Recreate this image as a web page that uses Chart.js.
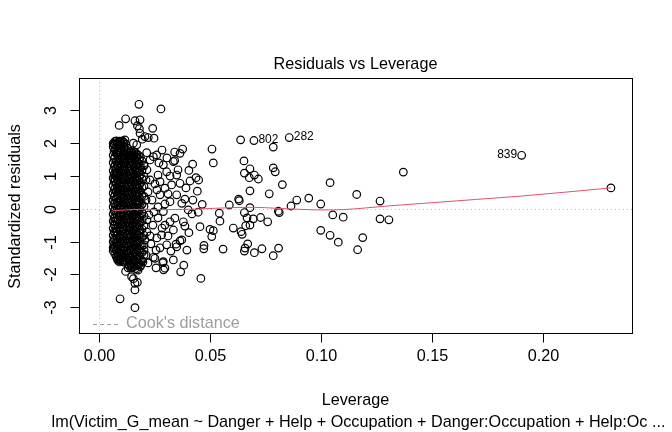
<!DOCTYPE html>
<html><head><meta charset="utf-8">
<script src="https://cdn.jsdelivr.net/npm/chart.js@4.4.1/dist/chart.umd.min.js"></script>
<style>html,body{margin:0;padding:0;background:#fff;}canvas{display:block;}</style>
</head><body>
<canvas id="c" width="672" height="432" style="width:672px;height:432px"></canvas>
<script>
// ---- data ----
const xTicks = [0, 0.05, 0.10, 0.15, 0.20];
const xTickLabels = ['0.00', '0.05', '0.10', '0.15', '0.20'];
const yTicks = [-3, -2, -1, 0, 1, 2, 3];
const yTickLabels = ['-3', '-2', '-1', '0', '1', '2', '3'];

// dense cluster: leverage columns and their standardized residuals
const clusterLeverage = [0.0064,0.0071,0.0078,0.0085,0.0092,0.0099,0.0106,0.0113,0.0120,0.0128,0.0136,0.0143,0.0150,0.0157,0.0164,0.0171,0.0178,0.0186,0.0194,0.0203,
                         0.0068,0.0082,0.0096,0.0110,0.0140,0.0154,0.0168,0.0182];
const clusterResiduals = [
 [1.88,1.62,1.40,1.15,0.93,0.70,0.47,0.26,0.05,-0.17,-0.38,-0.60,-0.81,-1.00,-1.18,1.98,-1.28],
 [2.04,1.80,1.55,1.31,1.08,0.84,0.61,0.38,0.14,-0.07,-0.29,-0.51,-0.73,-0.95,-1.16,-1.37,1.94,0.92,-0.40],
 [2.06,1.86,1.66,1.44,1.21,0.99,0.76,0.52,0.30,0.07,-0.15,-0.37,-0.59,-0.82,-1.04,-1.25,-1.46,1.10,-0.68],
 [2.02,1.75,1.50,1.27,1.03,0.80,0.56,0.33,0.10,-0.12,-0.34,-0.56,-0.78,-1.01,-1.22,-1.43,-1.57,1.62,0.20],
 [2.05,1.91,1.69,1.46,1.22,0.97,0.73,0.49,0.25,0.02,-0.21,-0.44,-0.66,-0.89,-1.11,-1.33,-1.52,0.60,-1.62],
 [2.03,1.83,1.59,1.35,1.12,0.89,0.65,0.42,0.18,-0.04,-0.26,-0.48,-0.71,-0.93,-1.14,-1.36,-1.55,1.71,-0.15],
 [2.06,1.77,1.53,1.29,1.06,0.82,0.58,0.35,0.12,-0.10,-0.32,-0.55,-0.77,-0.99,-1.20,-1.41,-1.60,0.95],
 [2.01,1.72,1.48,1.24,1.00,0.77,0.53,0.29,0.06,-0.16,-0.39,-0.62,-0.84,-1.06,-1.27,-1.48,-1.63,1.88],
 [1.96,1.64,1.38,1.13,0.88,0.64,0.40,0.16,-0.07,-0.30,-0.53,-0.76,-0.98,-1.19,-1.40,-1.58,1.79],
 [1.84,1.52,1.25,0.98,0.72,0.46,0.20,-0.05,-0.30,-0.55,-0.80,-1.05,-1.29,-1.52,1.68],
 [1.71,1.47,1.23,0.99,0.75,0.51,0.27,0.03,-0.20,-0.43,-0.66,-0.89,-1.12,-1.35,-1.57,-1.74,1.60],
 [1.74,1.53,1.30,1.06,0.82,0.58,0.34,0.10,-0.13,-0.36,-0.59,-0.82,-1.05,-1.28,-1.50,-1.70,-1.80],
 [1.68,1.44,1.19,0.95,0.70,0.46,0.22,-0.02,-0.26,-0.50,-0.73,-0.96,-1.19,-1.42,-1.63,-1.78,1.58],
 [1.73,1.51,1.27,1.02,0.78,0.54,0.30,0.06,-0.18,-0.41,-0.64,-0.87,-1.10,-1.33,-1.56,-1.76,1.64],
 [1.70,1.46,1.21,0.97,0.73,0.49,0.25,0.01,-0.23,-0.46,-0.69,-0.92,-1.15,-1.38,-1.60,-1.82],
 [1.66,1.40,1.15,0.91,0.67,0.43,0.19,-0.05,-0.29,-0.52,-0.75,-0.98,-1.21,-1.44,-1.66,-1.84,1.55],
 [1.62,1.36,1.11,0.86,0.62,0.38,0.14,-0.10,-0.34,-0.58,-0.81,-1.04,-1.27,-1.49,-1.70],
 [1.57,1.29,1.03,0.78,0.54,0.30,0.06,-0.18,-0.42,-0.66,-0.89,-1.12,-1.35,-1.57,-1.76],
 [1.45,1.17,0.90,0.64,0.39,0.13,-0.12,-0.37,-0.62,-0.87,-1.11,-1.34,-1.58],
 [1.30,0.98,0.68,0.37,0.07,-0.23,-0.52,-0.81,-1.10,-1.40],
 [1.95,1.74,1.51,1.27,1.03,0.81,0.58,0.36,0.16,-0.06,-0.27,-0.49,-0.70,-0.91,-1.09,-1.22],
 [1.97,1.71,1.33,1.09,0.87,0.63,0.41,0.19,-0.03,-0.25,-0.47,-0.70,-0.92,-1.13,-1.35,-1.52],
 [1.94,1.76,1.52,1.29,1.05,0.81,0.56,0.32,0.08,-0.15,-0.37,-0.59,-0.82,-1.03,-1.25,-1.46,-1.58],
 [1.97,1.63,1.40,1.17,0.93,0.70,0.46,0.22,-0.01,-0.23,-0.45,-0.68,-0.91,-1.13,-1.35,-1.55],
 [1.63,1.38,1.14,0.89,0.65,0.41,0.17,-0.07,-0.31,-0.54,-0.77,-1.00,-1.24,-1.46,-1.66],
 [1.61,1.37,1.13,0.88,0.64,0.40,0.16,-0.08,-0.32,-0.55,-0.78,-1.01,-1.25,-1.48,-1.69],
 [1.58,1.33,1.09,0.84,0.60,0.36,0.12,-0.12,-0.36,-0.60,-0.84,-1.07,-1.31,-1.53,-1.74],
 [1.49,1.22,0.97,0.72,0.48,0.23,-0.01,-0.26,-0.50,-0.74,-0.98,-1.22,-1.46,-1.68]
];

// points around the cluster and the tail below it: [leverage, residual]
const nearPoints = [
 [0.0120,2.73],[0.0091,2.53],[0.0162,2.67],[0.0185,2.70],[0.0173,2.52],[0.0182,2.43],[0.0185,2.29],[0.0195,2.11],
 [0.0242,2.44],[0.0248,2.14],[0.0222,2.16],[0.0117,2.09],[0.0095,2.04],[0.0155,1.99],[0.0170,1.94],[0.0207,2.19],
 [0.0215,1.70],[0.0245,1.58],[0.0260,1.63],[0.0290,1.33],[0.0305,1.12],[0.0335,1.43],[0.0350,1.02],[0.0365,0.77],
 [0.0327,0.72],[0.0297,0.62],[0.0275,0.82],[0.0350,0.42],[0.0320,0.21],[0.0373,0.16],[0.0402,-0.04],[0.0290,-0.09],
 [0.0342,-0.29],[0.0380,-0.40],[0.0297,-0.50],[0.0335,-0.65],[0.0282,-0.80],[0.0305,-1.10],[0.0252,-1.51],[0.0290,-1.61],
 [0.0297,-1.81],[0.0216,1.18],[0.0230,0.87],[0.0221,0.51],[0.0239,0.26],[0.0225,-0.19],[0.0243,-0.50],[0.0216,-0.71],
 [0.0234,-1.07],[0.0257,-1.26],[0.0212,-1.41],[0.0266,0.05],[0.0261,0.57],[0.0266,1.02],[0.0203,1.33],[0.0203,-1.26],
 [0.0221,-1.65],[0.0257,-1.80],[0.0275,0.42],[0.0284,1.78],[0.0306,1.54],[0.0270,1.39],[0.0320,0.99],[0.0252,0.75],
 [0.0311,0.45],[0.0266,-0.28],[0.0320,-0.40],[0.0284,-0.59],[0.0261,-0.89],[0.0311,-0.83],[0.0275,-1.19],[0.0324,-1.29],
 [0.0387,-0.53],[0.0419,-0.16],[0.0392,0.63],[0.0356,1.18],[0.0297,0.14],[0.0248,-0.10],[0.0423,0.26],[0.0396,-1.26],
 [0.0212,0.87],[0.0212,0.26],[0.0216,-0.34],[0.0207,-0.95],[0.0230,1.48],[0.0230,-0.83],
 [0.0120,-1.91],[0.0147,-2.07],[0.0155,-2.13],[0.0162,-2.27],[0.0173,-2.24],[0.0162,-2.47],[0.0245,-1.48],[0.0287,-1.64],
 [0.0291,-1.86],[0.0189,-1.71],[0.0176,-1.87],[0.0198,-1.62],[0.0131,-1.80]
];

// the sparser points at higher leverage: [leverage, residual]
const spreadPoints = [
 [0.0279,3.03],[0.0180,3.17],[0.0095,-2.74],[0.0162,-3.01],[0.0509,1.81],[0.0515,1.39],[0.0638,2.09],[0.0785,1.87],
 [0.0653,1.45],[0.0680,1.21],[0.0655,1.08],[0.0700,1.02],[0.0718,0.90],[0.0677,0.94],[0.0785,1.24],[0.0794,1.12],
 [0.0826,0.73],[0.0680,0.54],[0.0767,0.45],[0.0629,0.29],[0.0632,0.24],[0.0587,0.11],[0.0680,0.03],[0.0655,-0.12],
 [0.0667,-0.28],[0.0695,-0.31],[0.0728,-0.27],[0.0760,-0.40],[0.0808,-0.08],[0.0812,-0.12],[0.0865,0.08],[0.0891,0.26],
 [0.0945,0.32],[0.0999,0.14],[0.1041,0.79],[0.1053,-0.19],[0.0999,-0.66],[0.1041,-0.81],[0.1078,-1.02],[0.0605,-0.59],
 [0.0640,-0.70],[0.0645,-0.78],[0.0661,-0.52],[0.0680,-0.50],[0.0658,-1.20],[0.0655,-1.29],[0.0670,-1.07],[0.0734,-1.22],
 [0.0700,-1.34],[0.0809,-1.20],[0.0785,-1.43],[0.0559,-1.23],[0.0473,-1.12],[0.0472,-1.22],[0.0455,-0.55],[0.0500,-0.63],
 [0.0515,-0.67],[0.0508,-0.85],[0.0542,-0.14],[0.0545,-0.38],[0.0465,0.13],[0.0447,-0.11],[0.0459,-2.12],[0.0368,-1.92],
 [0.0382,-1.72],[0.0335,-1.56],[0.0377,1.81],[0.0341,1.72],[0.0365,1.68],[0.0341,1.46],[0.0422,1.35],[0.0405,1.16],
 [0.0449,0.87],[0.0437,0.94],[0.0410,0.84],[0.0443,0.53],[0.0387,0.29],[0.0405,-0.73],[0.0373,-0.95],[0.0365,-0.98],
 [0.0347,-1.08],[0.0350,-1.16],[0.1371,1.11],[0.1161,0.43],[0.1266,0.23],[0.1100,-0.26],[0.1266,-0.31],[0.1306,-0.34],
 [0.1188,-0.88],[0.1165,-1.25],[0.2306,0.63]
];

// labelled observations
const labelIds = ['802', '282', '839'];
const labelLeverage = [0.0698, 0.0857, 0.1904];
const labelResiduals = [2.07, 2.16, 1.62];
const labelSide = ['right', 'right', 'left'];

// smoother (red line)
const smoothLeverage = [0.0064,0.012,0.020,0.030,0.045,0.060,0.070,0.080,0.090,0.100,0.110,0.120,0.130,0.150,0.170,0.190,0.210,0.2306];
const smoothResiduals = [-0.06,-0.04,-0.02,-0.03,-0.01,0.03,0.04,0.01,-0.02,-0.04,-0.03,0.02,0.08,0.18,0.28,0.38,0.50,0.63];

// ---- build datasets ----
const points = [];
clusterLeverage.forEach((lv, i) => clusterResiduals[i].forEach(r => points.push({x: lv, y: r})));
nearPoints.forEach(p => points.push({x: p[0], y: p[1]}));
spreadPoints.forEach(p => points.push({x: p[0], y: p[1]}));
labelLeverage.forEach((lv, i) => points.push({x: lv, y: labelResiduals[i]}));
const smooth = smoothLeverage.map((lv, i) => ({x: lv, y: smoothResiduals[i]}));

const FONT = '"Liberation Sans", Arial, Helvetica, sans-serif';
const FS = '16.2px ';

const rPlot = {
  id: 'rPlot',
  beforeDatasetsDraw(chart) {
    const {ctx, chartArea: a, scales: {x, y}} = chart;
    ctx.save();
    ctx.strokeStyle = '#BEBEBE';
    ctx.lineWidth = 1;
    ctx.setLineDash([1, 3]);
    const y0 = Math.round(y.getPixelForValue(0)) + 0.5;
    ctx.beginPath(); ctx.moveTo(a.left, y0); ctx.lineTo(a.right, y0); ctx.stroke();
    const x0 = Math.round(x.getPixelForValue(0)) + 0.5;
    ctx.beginPath(); ctx.moveTo(x0, a.top); ctx.lineTo(x0, a.bottom); ctx.stroke();
    ctx.restore();
  },
  afterDatasetsDraw(chart) {
    const {ctx, chartArea: a, scales: {x, y}} = chart;
    ctx.save();
    // box
    ctx.strokeStyle = '#000';
    ctx.lineWidth = 1;
    ctx.setLineDash([]);
    ctx.strokeRect(Math.round(a.left) + 0.5, Math.round(a.top) + 0.5, Math.round(a.right - a.left), Math.round(a.bottom - a.top));
    ctx.fillStyle = '#000';
    ctx.font = FS + FONT;
    // x axis ticks
    const bx = Math.round(a.bottom) + 0.5;
    ctx.textAlign = 'center'; ctx.textBaseline = 'middle';
    xTicks.forEach((v, i) => {
      const px = Math.round(x.getPixelForValue(v)) + 0.5;
      ctx.beginPath(); ctx.moveTo(px, bx); ctx.lineTo(px, bx + 9); ctx.stroke();
      ctx.fillText(xTickLabels[i], px, a.bottom + 24);
    });
    // y axis ticks
    const lx = Math.round(a.left) + 0.5;
    yTicks.forEach((v, i) => {
      const py = Math.round(y.getPixelForValue(v)) + 0.5;
      ctx.beginPath(); ctx.moveTo(lx, py); ctx.lineTo(lx - 9, py); ctx.stroke();
      ctx.save();
      ctx.translate(a.left - 27, py);
      ctx.rotate(-Math.PI / 2);
      ctx.fillText(yTickLabels[i], 0, 0);
      ctx.restore();
    });
    // titles
    const cx = (a.left + a.right) / 2;
    ctx.fillText('Residuals vs Leverage', cx, a.top - 13);
    ctx.fillText('Leverage', cx, a.bottom + 68);
    ctx.fillText('lm(Victim_G_mean ~ Danger + Help + Occupation + Danger:Occupation + Help:Oc ...', cx + 3, a.bottom + 90);
    ctx.save();
    ctx.translate(a.left - 63, (a.top + a.bottom) / 2 + 1);
    ctx.rotate(-Math.PI / 2);
    ctx.fillText('Standardized residuals', 0, 0);
    ctx.restore();
    // Cook's distance legend
    ctx.strokeStyle = '#9E9E9E';
    ctx.setLineDash([4, 3]);
    ctx.beginPath(); ctx.moveTo(a.left + 14, a.bottom - 8.5); ctx.lineTo(a.left + 42, a.bottom - 8.5); ctx.stroke();
    ctx.setLineDash([]);
    ctx.fillStyle = '#9E9E9E';
    ctx.textAlign = 'left';
    ctx.fillText("Cook's distance", a.left + 47, a.bottom - 9);
    // point labels
    ctx.fillStyle = '#000';
    ctx.font = '12px ' + FONT;
    labelIds.forEach((t, i) => {
      const px = x.getPixelForValue(labelLeverage[i]);
      const py = y.getPixelForValue(labelResiduals[i]);
      if (labelSide[i] === 'right') { ctx.textAlign = 'left'; ctx.fillText(t, px + 4.5, py - 1); }
      else { ctx.textAlign = 'right'; ctx.fillText(t, px - 4.5, py - 1); }
    });
    ctx.restore();
  }
};

new Chart(document.getElementById('c'), {
  type: 'scatter',
  data: {
    datasets: [
      {type: 'line', data: smooth, borderColor: '#DF536B', borderWidth: 1, pointRadius: 0, fill: false,
       cubicInterpolationMode: 'monotone', order: 0},
      {data: points, pointStyle: 'circle', pointRadius: 3.8, borderColor: '#000', backgroundColor: 'rgba(0,0,0,0)',
       borderWidth: 1.2, order: 1}
    ]
  },
  options: {
    responsive: false,
    animation: false,
    events: [],
    layout: {padding: {left: 79, right: 40, top: 78, bottom: 99}},
    plugins: {legend: {display: false}, tooltip: {enabled: false}, title: {display: false}},
    scales: {
      x: {type: 'linear', display: false, min: -0.009, max: 0.2401},
      y: {type: 'linear', display: false, min: -3.78, max: 3.97}
    }
  },
  plugins: [rPlot]
});
</script>
</body></html>
